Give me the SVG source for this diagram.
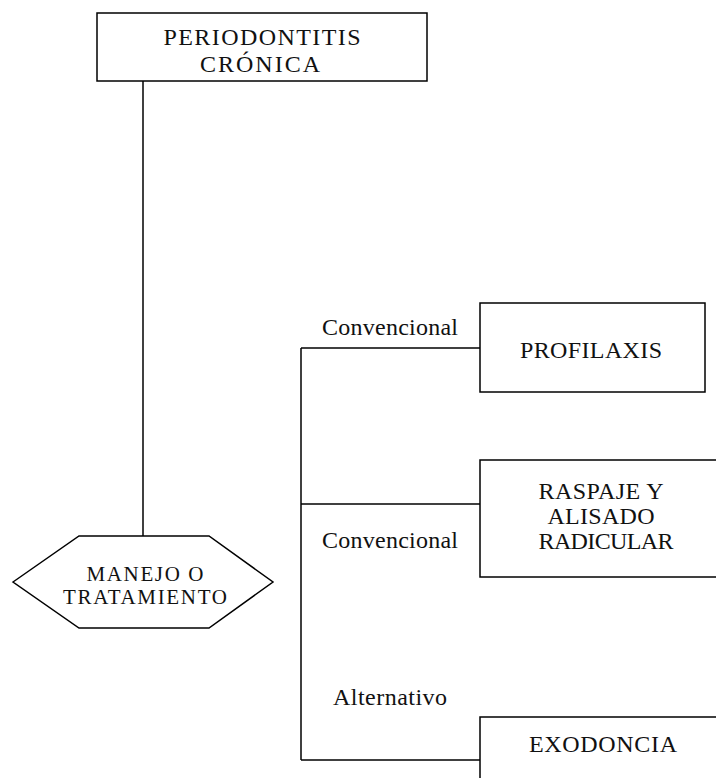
<svg xmlns="http://www.w3.org/2000/svg" width="716" height="778" viewBox="0 0 716 778">
<style>
.box{fill:#fff;stroke:#000;stroke-width:1.5}
.ln{fill:none;stroke:#000;stroke-width:1.5}
.t{text-anchor:middle}
.l{text-anchor:start}
</style>
<rect width="716" height="778" fill="#fff"/>
<g id="connectors">
<path class="ln" d="M143,81 V536"/>
<path class="ln" d="M301,348 V760"/>
<path class="ln" d="M301,348 H480"/>
<path class="ln" d="M301,504 H480"/>
<path class="ln" d="M301,760 H480"/>
</g>
<g font-family="Liberation Serif, serif" font-size="24" fill="#111">
<g id="periodontitis">
<rect class="box" x="97" y="13" width="330" height="68"/>
<text class="t" x="262" y="45" textLength="197" lengthAdjust="spacing">PERIODONTITIS</text>
<text class="t" x="260" y="72" textLength="120" lengthAdjust="spacing">CRÓNICA</text>
</g>
<g id="manejo">
<polygon class="box" points="13,582 79,536 209,536 273,582 209,628 79,628"/>
<text class="t" x="145" y="581" font-size="21" textLength="117" lengthAdjust="spacing">MANEJO O</text>
<text class="t" x="145" y="604" font-size="21" textLength="164" lengthAdjust="spacing">TRATAMIENTO</text>
</g>
<g id="profilaxis">
<rect class="box" x="480" y="303" width="225" height="89"/>
<text class="t" x="591" y="358" textLength="142" lengthAdjust="spacing">PROFILAXIS</text>
</g>
<g id="raspaje">
<rect class="box" x="480" y="460" width="250" height="117"/>
<text class="t" x="601" y="499" textLength="125" lengthAdjust="spacing">RASPAJE Y</text>
<text class="t" x="601" y="524" textLength="107" lengthAdjust="spacing">ALISADO</text>
<text class="t" x="606" y="549" textLength="135" lengthAdjust="spacing">RADICULAR</text>
</g>
<g id="exodoncia">
<rect class="box" x="480" y="717" width="250" height="80"/>
<text class="t" x="603" y="752" textLength="148" lengthAdjust="spacing">EXODONCIA</text>
</g>
<g id="labels">
<text class="l" x="322" y="335" textLength="136" lengthAdjust="spacing">Convencional</text>
<text class="l" x="322" y="548" textLength="136" lengthAdjust="spacing">Convencional</text>
<text class="l" x="333" y="705" textLength="114" lengthAdjust="spacing">Alternativo</text>
</g>
</g>
</svg>
